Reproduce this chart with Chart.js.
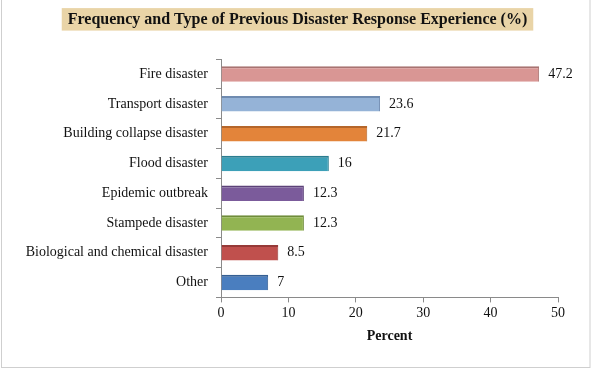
<!DOCTYPE html>
<html>
<head>
<meta charset="utf-8">
<title>Frequency and Type of Previous Disaster Response Experience</title>
<script src="https://cdn.jsdelivr.net/npm/chart.js@4/dist/chart.umd.min.js"></script>
<style>
  html, body { margin: 0; padding: 0; background: #ffffff; }
  #wrap { position: relative; width: 595px; height: 370px; }
</style>
</head>
<body>
<div id="wrap"><canvas id="chart" width="595" height="370"></canvas></div>
<script>
// Disaster types (top to bottom) and share of respondents (%)
const categories = [
  'Fire disaster',
  'Transport disaster',
  'Building collapse disaster',
  'Flood disaster',
  'Epidemic outbreak',
  'Stampede disaster',
  'Biological and chemical disaster',
  'Other'
];
const percentValues = [47.2, 23.6, 21.7, 16, 12.3, 12.3, 8.5, 7];
const xTickValues = [0, 10, 20, 30, 40, 50];

// Bar face colours and the darker top edge that gives them depth
const barFaces = ['#d99694', '#95b3d7', '#e3843a', '#3ca0b8', '#7b5b9b', '#92b452', '#c0504d', '#4a7ebf'];
const barEdges = ['#a87371', '#6f8bb0', '#b5662a', '#2a7d90', '#5c4278', '#6f8c3a', '#963a38', '#345f94'];

const SERIF = '"Liberation Serif", "Times New Roman", serif';

// Tan label panel behind the chart title, plus the outer frame
const framePlugin = {
  id: 'frame',
  afterLayout(chart) {
    // centre the title over the whole canvas
    if (chart.titleBlock) {
      chart.titleBlock.left = 0;
      chart.titleBlock.right = chart.width;
    }
  },
  beforeDraw(chart) {
    const ctx = chart.ctx;
    ctx.save();
    ctx.fillStyle = '#ffffff';
    ctx.fillRect(0, 0, chart.width, chart.height);
    const tb = chart.titleBlock;
    if (tb) {
      const opts = chart.options.plugins.title;
      ctx.font = 'bold ' + opts.font.size + 'px ' + SERIF;
      const w = ctx.measureText(opts.text).width;
      const cx = (tb.left + tb.right) / 2;
      const cy = tb.top + opts.padding.top + opts.font.size * 0.6;
      ctx.fillStyle = '#e9d4a7';
      ctx.fillRect(cx - w / 2 - 6, cy - 11.5, w + 12, 22.5);
    }
    ctx.strokeStyle = '#cfcfcf';
    ctx.lineWidth = 1;
    ctx.strokeRect(1.5, -2, 588.5, 369.5);
    ctx.restore();
  }
};

// Value labels to the right of each bar
const valueLabels = {
  id: 'valueLabels',
  afterDatasetsDraw(chart) {
    const ctx = chart.ctx;
    const meta = chart.getDatasetMeta(0);
    ctx.save();
    ctx.font = '14px ' + SERIF;
    ctx.fillStyle = '#111111';
    ctx.textAlign = 'left';
    ctx.textBaseline = 'middle';
    meta.data.forEach((bar, i) => {
      ctx.fillText(String(percentValues[i]), bar.x + 9, bar.y);
    });
    ctx.restore();
  }
};

new Chart(document.getElementById('chart'), {
  type: 'bar',
  data: {
    labels: categories,
    datasets: [{
      data: percentValues,
      backgroundColor: barFaces,
      borderColor: barEdges,
      borderWidth: { top: 2, right: 1, bottom: 0, left: 0 },
      borderSkipped: false,
      barPercentage: 0.52,
      categoryPercentage: 1.0
    }]
  },
  options: {
    indexAxis: 'y',
    responsive: false,
    animation: false,
    layout: { padding: { left: 0, right: 37, top: 0, bottom: 19 } },
    plugins: {
      legend: { display: false },
      tooltip: { enabled: false },
      title: {
        display: true,
        text: 'Frequency and Type of Previous Disaster Response Experience (%)',
        color: '#111111',
        font: { family: SERIF, size: 16, weight: 'bold' },
        padding: { top: 10, bottom: 30 }
      }
    },
    scales: {
      x: {
        type: 'linear',
        min: 0,
        max: 50,
        afterBuildTicks(scale) {
          scale.ticks = xTickValues.map(v => ({ value: v }));
        },
        grid: { display: true, drawOnChartArea: false, drawTicks: true, tickLength: 5, color: '#8a8a8a' },
        border: { display: true, color: '#8a8a8a' },
        ticks: { color: '#111111', font: { family: SERIF, size: 14 }, padding: 3 },
        title: {
          display: true,
          text: 'Percent',
          color: '#111111',
          font: { family: SERIF, size: 14, weight: 'bold' },
          padding: { top: 3, bottom: 6 }
        }
      },
      y: {
        type: 'category',
        afterFit(scale) { scale.width = 221; },
        grid: { display: true, drawOnChartArea: false, drawTicks: true, tickLength: 5, color: '#8a8a8a', offset: true },
        border: { display: true, color: '#8a8a8a' },
        ticks: { color: '#111111', font: { family: SERIF, size: 14 }, padding: 8 }
      }
    }
  },
  plugins: [framePlugin, valueLabels]
});
</script>
</body>
</html>
